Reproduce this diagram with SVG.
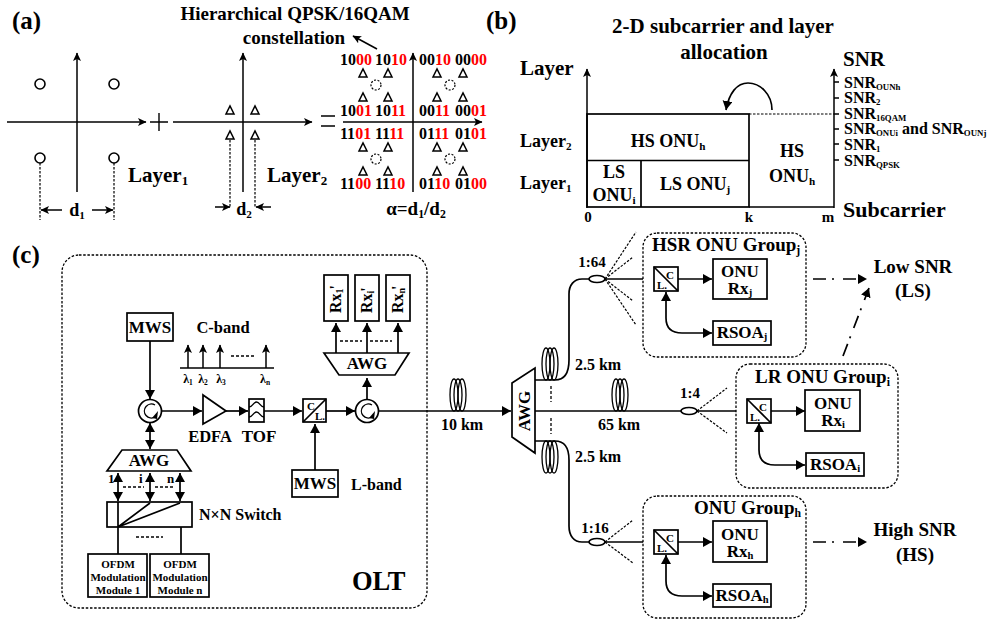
<svg xmlns="http://www.w3.org/2000/svg" width="999" height="620" viewBox="0 0 999 620">
<defs>
<marker id="a" markerUnits="userSpaceOnUse" markerWidth="10" markerHeight="10" refX="8" refY="4" orient="auto-start-reverse"><path d="M0 0L8.5 4L0 8L2 4Z" fill="#000"/></marker>
<marker id="b" markerUnits="userSpaceOnUse" markerWidth="12" markerHeight="12" refX="9" refY="5" orient="auto-start-reverse"><path d="M0 0L9 5L0 10Z" fill="#000"/></marker>
<path id="tri" d="M-4 4H4L0 -4Z" fill="none" stroke="#000" stroke-width="1.5"/>
<g id="coil" fill="none" stroke="#000" stroke-width="1.3"><ellipse cx="-4" rx="4" ry="16"/><ellipse rx="4" ry="16"/><ellipse cx="4" rx="4" ry="16"/></g>
</defs>
<style>
text{font-family:"Liberation Serif","Times New Roman",serif;font-weight:bold;fill:#000}
.c{text-anchor:middle}
.t26{font-size:25px}.t22{font-size:22px}.t21{font-size:21px}.t19{font-size:19px}.t18{font-size:18px}.t17{font-size:17px}.t16{font-size:16px}.t15{font-size:15px}.t11{font-size:11px}
.s{font-size:0.62em}
.u{font-size:0.55em}
.r{fill:#f00}
.bx{fill:#fff;stroke:#000;stroke-width:1.7}
.fn{fill:none;stroke:#000;stroke-width:1.7}
.l{fill:none;stroke:#000;stroke-width:1.7}
.la{fill:none;stroke:#000;stroke-width:1.7;marker-end:url(#b)}
.lb{fill:none;stroke:#000;stroke-width:1.7;marker-end:url(#b);marker-start:url(#b)}
.ax{fill:none;stroke:#000;stroke-width:1.5;marker-end:url(#a)}
.d{fill:none;stroke:#000;stroke-width:1.2;stroke-dasharray:2.5 1.5}
.dd{fill:none;stroke:#000;stroke-width:1.3;stroke-dasharray:3 2}
.g{fill:none;stroke:#000;stroke-width:1.3;stroke-dasharray:2.5 1.7}
.dh{fill:none;stroke:#000;stroke-width:1.7;stroke-dasharray:13 6 2 9;marker-end:url(#b)}
</style>

<g id="panel-a">
<text x="12" y="29" class="t26">(a)</text>
<text x="295" y="20" class="t19 c">Hierarchical QPSK/16QAM</text>
<text x="294" y="44" class="t19 c">constellation</text>
<g id="axes-a">
<path class="ax" d="M7 122H146"/><path class="ax" d="M77 192V53"/>
<path class="ax" d="M173 122H312"/><path class="ax" d="M243 192V53"/>
<path class="ax" d="M343 122H482"/><path class="ax" d="M413 192V53"/>
<path class="ax" d="M377 49L353 36"/>
<path d="M150 122H168M159 113V131M321 116H335M321 126H335" fill="none" stroke="#000" stroke-width="1.4"/>
</g>
<g fill="none" stroke="#000" stroke-width="1.6"><circle cx="40" cy="84" r="5"/><circle cx="114" cy="84" r="5"/><circle cx="40" cy="158" r="5"/><circle cx="114" cy="158" r="5"/></g>
<path class="d" d="M40 163V220M114 163V220M230 140V207M255 140V207"/>
<path class="ax" d="M62 210H41"/><path class="ax" d="M92 210H113"/>
<path class="ax" d="M215 207H230"/><path class="ax" d="M271 207H256"/>
<text x="77" y="216" class="t18 c">d<tspan class="s" dy="3">1</tspan></text>
<text x="244" y="215" class="t18 c">d<tspan class="s" dy="3">2</tspan></text>
<text x="128" y="182" class="t21">Layer<tspan class="s" dy="3">1</tspan></text>
<text x="267" y="182" class="t21">Layer<tspan class="s" dy="3">2</tspan></text>
<use href="#tri" x="230" y="110"/><use href="#tri" x="255" y="110"/><use href="#tri" x="230" y="135"/><use href="#tri" x="255" y="135"/>
<use href="#tri" x="363" y="73"/><use href="#tri" x="388" y="73"/><use href="#tri" x="437" y="73"/><use href="#tri" x="463" y="73"/>
<use href="#tri" x="363" y="97"/><use href="#tri" x="388" y="97"/><use href="#tri" x="437" y="97"/><use href="#tri" x="463" y="97"/>
<use href="#tri" x="363" y="147"/><use href="#tri" x="388" y="147"/><use href="#tri" x="437" y="147"/><use href="#tri" x="463" y="147"/>
<use href="#tri" x="363" y="171"/><use href="#tri" x="388" y="171"/><use href="#tri" x="437" y="171"/><use href="#tri" x="463" y="171"/>
<g fill="none" stroke="#000" stroke-width="1.2" stroke-dasharray="2 1.5"><circle cx="376" cy="85" r="5"/><circle cx="450" cy="85" r="5"/><circle cx="376" cy="159" r="5"/><circle cx="450" cy="159" r="5"/></g>
<g>
<text x="340" y="65" class="t16">10<tspan class="r">00</tspan></text><text x="375" y="65" class="t16">10<tspan class="r">10</tspan></text><text x="419" y="65" class="t16">00<tspan class="r">10</tspan></text><text x="455" y="65" class="t16">00<tspan class="r">00</tspan></text>
<text x="340" y="116" class="t16">10<tspan class="r">01</tspan></text><text x="375" y="116" class="t16">10<tspan class="r">11</tspan></text><text x="419" y="116" class="t16">00<tspan class="r">11</tspan></text><text x="455" y="116" class="t16">00<tspan class="r">01</tspan></text>
<text x="340" y="139" class="t16">11<tspan class="r">01</tspan></text><text x="375" y="139" class="t16">11<tspan class="r">11</tspan></text><text x="419" y="139" class="t16">01<tspan class="r">11</tspan></text><text x="455" y="139" class="t16">01<tspan class="r">01</tspan></text>
<text x="340" y="189" class="t16">11<tspan class="r">00</tspan></text><text x="375" y="189" class="t16">11<tspan class="r">10</tspan></text><text x="419" y="189" class="t16">01<tspan class="r">10</tspan></text><text x="455" y="189" class="t16">01<tspan class="r">00</tspan></text>
</g>
<text x="416" y="215" class="t19 c">α=d<tspan class="s" dy="3">1</tspan><tspan dy="-3">/d</tspan><tspan class="s" dy="3">2</tspan></text>
</g>

<g id="panel-b">
<text x="486" y="29" class="t26">(b)</text>
<text x="723" y="33" class="t21 c">2-D subcarrier and layer</text>
<text x="724" y="59" class="t21 c">allocation</text>
<text x="520" y="75" class="t21">Layer</text>
<text x="843" y="66" class="t21">SNR</text>
<path class="ax" d="M587 208V69"/><path class="ax" d="M834 208V69"/>
<rect class="fn" x="587" y="114" width="162" height="93"/>
<path class="l" d="M587 160.500H749M641 160.500V207M749 207H834"/>
<path class="d" d="M749 114H834"/>
<path class="l" d="M834 82H839M834 98H839M834 114H839M834 129H839M834 144H839M834 160H839"/>
<path class="la" d="M772 110C772 94 760 83 748 83C737 83 729 93 726 110"/>
<text x="844" y="88" class="t16">SNR<tspan class="u" dy="2">OUNh</tspan></text>
<text x="844" y="103" class="t16">SNR<tspan class="u" dy="2">2</tspan></text>
<text x="844" y="119" class="t16">SNR<tspan class="u" dy="2">16QAM</tspan></text>
<text x="844" y="134" class="t16">SNR<tspan class="u" dy="2">ONUi</tspan><tspan dy="-2"> and SNR</tspan><tspan class="u" dy="2">OUNj</tspan></text>
<text x="844" y="150" class="t16">SNR<tspan class="u" dy="2">1</tspan></text>
<text x="844" y="166" class="t16">SNR<tspan class="u" dy="2">QPSK</tspan></text>
<text x="520" y="147" class="t18">Layer<tspan class="s" dy="3">2</tspan></text>
<text x="520" y="189" class="t18">Layer<tspan class="s" dy="3">1</tspan></text>
<text x="668" y="147" class="t18 c">HS ONU<tspan class="s" dy="3">h</tspan></text>
<text x="614" y="178" class="t18 c">LS</text>
<text x="614" y="201" class="t18 c">ONU<tspan class="s" dy="3">i</tspan></text>
<text x="695" y="190" class="t18 c">LS ONU<tspan class="s" dy="3">j</tspan></text>
<text x="792" y="157" class="t18 c">HS</text>
<text x="792" y="182" class="t18 c">ONU<tspan class="s" dy="3">h</tspan></text>
<text x="588" y="222" class="t15 c">0</text><text x="749" y="222" class="t15 c">k</text><text x="828" y="222" class="t15 c">m</text>
<text x="843" y="217" class="t22">Subcarrier</text>
</g>

<text x="12" y="263" class="t26">(c)</text>

<g id="connectors">
<path class="la" d="M150 341V399"/>
<path class="lb" d="M150 423V449"/>
<path class="la" d="M161 411H202"/>
<path class="la" d="M226 411H248"/>
<path class="la" d="M264 411H302"/>
<path class="la" d="M326 411H355"/>
<path class="la" d="M315 470V424"/>
<path class="la" d="M367 399V378"/>
<path class="la" d="M336 353V323"/><path class="la" d="M367 353V323"/><path class="la" d="M398 353V323"/>
<path class="dd" d="M340 341H362M370 341H392"/>
<path class="lb" d="M118 473V501"/><path class="lb" d="M150 473V501"/><path class="lb" d="M180 473V501"/>
<path class="dd" d="M123 487H144M155 487H175M136 537H163"/>
<path class="l" d="M118 502V554M118 527L150 503M118 527L180 503M181 527V554"/>
<path class="la" d="M378 411H511"/>
<path class="l" d="M535 380H555C565 380 569 372 569 360V294C569 285 574 279 582 279H590"/>
<path class="l" d="M535 411H681"/>
<path class="l" d="M535 441H555C565 441 569 449 569 460V526C569 536 574 542 582 542H590"/>
<path class="dd" d="M551 386V402M551 418V434"/>
<path class="l" d="M605 279H643M697 411H736M605 542H643"/>
<path class="d" d="M605 279L636 232M605 279L633 257M605 279L633 301M605 279L636 325M697 411L727 388M697 411L727 433M605 542L633 520M605 542L633 563"/>
<path class="la" d="M678 279H712"/><path class="la" d="M771 411H805"/><path class="la" d="M678 542H712"/>
<path class="lb" d="M666 292V318C666 328 672 333 682 333H712"/>
<path class="lb" d="M759 423V450C759 460 765 465 775 465H805"/>
<path class="lb" d="M666 555V581C666 591 672 596 682 596H712"/>
<path class="dh" d="M813 279H867"/><path class="dh" d="M813 542H867"/><path class="dh" d="M843 356L869 288"/>
</g>

<g id="olt"><rect class="g" x="62" y="255" width="365" height="353" rx="17"/>
<text x="352" y="590" style="font-size:26.500px">OLT</text></g>
<g id="mws1"><rect class="bx" x="127" y="313" width="46" height="28"/><text x="150" y="333" class="t17 c">MWS</text></g>
<g id="mws2"><rect class="bx" x="292" y="470" width="46" height="27"/><text x="315" y="489" class="t17 c">MWS</text></g>
<g id="c-band"><text x="223" y="333" class="t16 c" style="font-size:16.500px">C-band</text>
<path class="l" d="M180 368H274"/><path class="ax" d="M188 368V345"/><path class="ax" d="M203 368V345"/><path class="ax" d="M220 368V345"/><path class="ax" d="M266 368V345"/>
<path class="dd" d="M231 356H254"/>
<text x="188" y="383" class="t11 c" style="font-size:12px">λ<tspan class="s" dy="2">1</tspan></text><text x="203" y="383" class="t11 c" style="font-size:12px">λ<tspan class="s" dy="2">2</tspan></text><text x="221" y="383" class="t11 c" style="font-size:12px">λ<tspan class="s" dy="2">3</tspan></text><text x="265" y="383" class="t11 c" style="font-size:12px">λ<tspan class="s" dy="2">n</tspan></text></g>
<g id="circ1"><circle class="bx" cx="150" cy="411" r="11.500"/><path d="M155 405A7 7 0 1 0 155 417" class="l" style="stroke-width:1.3"/><path d="M158 411L152 418L157 419Z"/></g>
<g id="circ2"><circle class="bx" cx="367" cy="411" r="11.500"/><path d="M372 405A7 7 0 1 0 372 417" class="l" style="stroke-width:1.3"/><path d="M375 411L369 418L374 419Z"/></g>
<g id="edfa"><path class="bx" d="M203 395L226 411L203 424Z"/><text x="210" y="442" class="t16 c" style="font-size:16.500px">EDFA</text></g>
<g id="tof"><rect class="bx" x="249" y="399" width="15" height="23"/><path class="l" style="stroke-width:1.3" d="M249 407C253 407 253 402 256.500 402S260 407 264 407M249 417C253 417 253 412 256.500 412S260 417 264 417"/><text x="259" y="442" class="t17 c">TOF</text></g>
<g id="wdm1"><rect class="bx" x="303" y="399" width="23" height="23"/><path class="l" d="M303 422L326 399"/><text x="307" y="410" class="t11">C</text><text x="315" y="420" class="t11">L.</text></g>
<g id="awg-rx"><path class="bx" d="M324 353H409L395 375H339Z"/><text x="367" y="369" class="t17 c">AWG</text></g>
<g id="rx1"><rect class="bx" x="324" y="275" width="24" height="46"/><text transform="translate(341 313) rotate(-90)" class="t16">Rx<tspan class="s" dy="2">1</tspan><tspan dy="-2" dx="-1">'</tspan></text></g>
<g id="rxi"><rect class="bx" x="355" y="275" width="24" height="46"/><text transform="translate(372 313) rotate(-90)" class="t16">Rx<tspan class="s" dy="2">i</tspan><tspan dy="-2" dx="-1">'</tspan></text></g>
<g id="rxn"><rect class="bx" x="386" y="275" width="24" height="46"/><text transform="translate(403 313) rotate(-90)" class="t16">Rx<tspan class="s" dy="2">n</tspan><tspan dy="-2" dx="-2">'</tspan></text></g>
<text x="351" y="490" class="t16">L-band</text>
<g id="awg-tx"><path class="bx" d="M122 450H177L191 471H107Z"/><text x="149" y="466" class="t17 c">AWG</text>
<text x="108" y="483" style="font-size:13px">1</text><text x="139" y="483" style="font-size:13px">i</text><text x="167" y="483" style="font-size:13px">n</text></g>
<g id="switch"><rect class="fn" x="107" y="502" width="85" height="25"/><text x="199" y="520" class="t16">N×N Switch</text></g>
<g id="ofdm1"><rect class="bx" x="88" y="554" width="59" height="43"/><text x="118" y="568" class="t11 c">OFDM</text><text x="118" y="581" class="t11 c">Modulation</text><text x="118" y="594" class="t11 c">Module 1</text></g>
<g id="ofdmn"><rect class="bx" x="150" y="554" width="59" height="43"/><text x="180" y="568" class="t11 c">OFDM</text><text x="180" y="581" class="t11 c">Modulation</text><text x="180" y="594" class="t11 c">Module n</text></g>

<g id="fibers">
<use href="#coil" x="458" y="395"/><text x="462" y="430" class="t16 c">10 km</text>
<use href="#coil" x="550" y="364"/><text x="598" y="370" class="t16 c">2.5 km</text>
<use href="#coil" x="620" y="395"/><text x="619" y="430" class="t16 c">65 km</text>
<use href="#coil" x="550" y="457"/><text x="598" y="462" class="t16 c">2.5 km</text>
</g>
<g id="awg-main"><path class="bx" d="M512 383L535 368V453L512 437Z"/><text transform="translate(530 411) rotate(-90)" class="t17 c">AWG</text></g>
<g id="split64"><ellipse class="bx" cx="597" cy="279" rx="8" ry="3.500"/><text x="592" y="267" class="t15 c">1:64</text></g>
<g id="split4"><ellipse class="bx" cx="689" cy="411" rx="8" ry="3.500"/><text x="690" y="398" class="t15 c">1:4</text></g>
<g id="split16"><ellipse class="bx" cx="597" cy="542" rx="8" ry="3.500"/><text x="595" y="533" class="t15 c">1:16</text></g>

<g id="group-j"><rect class="g" x="643" y="233" width="163" height="124" rx="14"/>
<text x="652" y="251" class="t19">HSR ONU Group<tspan class="s" dy="3">j</tspan></text>
<rect class="bx" x="654" y="267" width="24" height="24"/><path class="l" d="M654 267L678 291"/><text x="666" y="279" class="t11">C</text><text x="657" y="289" class="t11">L.</text>
<rect class="bx" x="713" y="259" width="54" height="40"/><text x="740" y="277" class="t17 c">ONU</text><text x="740" y="294" class="t17 c">Rx<tspan class="s" dy="2">j</tspan></text>
<rect class="bx" x="713" y="321" width="58" height="24"/><text x="742" y="338" class="t17 c">RSOA<tspan class="s" dy="2">j</tspan></text></g>

<g id="group-i"><rect class="g" x="736" y="364" width="162" height="124" rx="14"/>
<text x="755" y="383" class="t19">LR ONU Group<tspan class="s" dy="3">i</tspan></text>
<rect class="bx" x="747" y="399" width="24" height="24"/><path class="l" d="M747 399L771 423"/><text x="759" y="411" class="t11">C</text><text x="750" y="421" class="t11">L.</text>
<rect class="bx" x="805" y="390" width="55" height="41"/><text x="833" y="409" class="t17 c">ONU</text><text x="833" y="426" class="t17 c">Rx<tspan class="s" dy="2">i</tspan></text>
<rect class="bx" x="806" y="453" width="58" height="23"/><text x="835" y="470" class="t17 c">RSOA<tspan class="s" dy="2">i</tspan></text></g>

<g id="group-h"><rect class="g" x="643" y="496" width="163" height="122" rx="14"/>
<text x="694" y="514" class="t19">ONU Group<tspan class="s" dy="3">h</tspan></text>
<rect class="bx" x="654" y="530" width="24" height="24"/><path class="l" d="M654 530L678 554"/><text x="666" y="542" class="t11">C</text><text x="657" y="552" class="t11">L.</text>
<rect class="bx" x="713" y="521" width="54" height="41"/><text x="740" y="540" class="t17 c">ONU</text><text x="740" y="557" class="t17 c">Rx<tspan class="s" dy="2">h</tspan></text>
<rect class="bx" x="713" y="584" width="58" height="23"/><text x="742" y="601" class="t17 c">RSOA<tspan class="s" dy="2">h</tspan></text></g>

<g id="snr-labels">
<text x="913" y="273" class="t19 c">Low SNR</text><text x="913" y="297" class="t19 c">(LS)</text>
<text x="915" y="536" class="t19 c">High SNR</text><text x="915" y="561" class="t19 c">(HS)</text>
</g>
</svg>
